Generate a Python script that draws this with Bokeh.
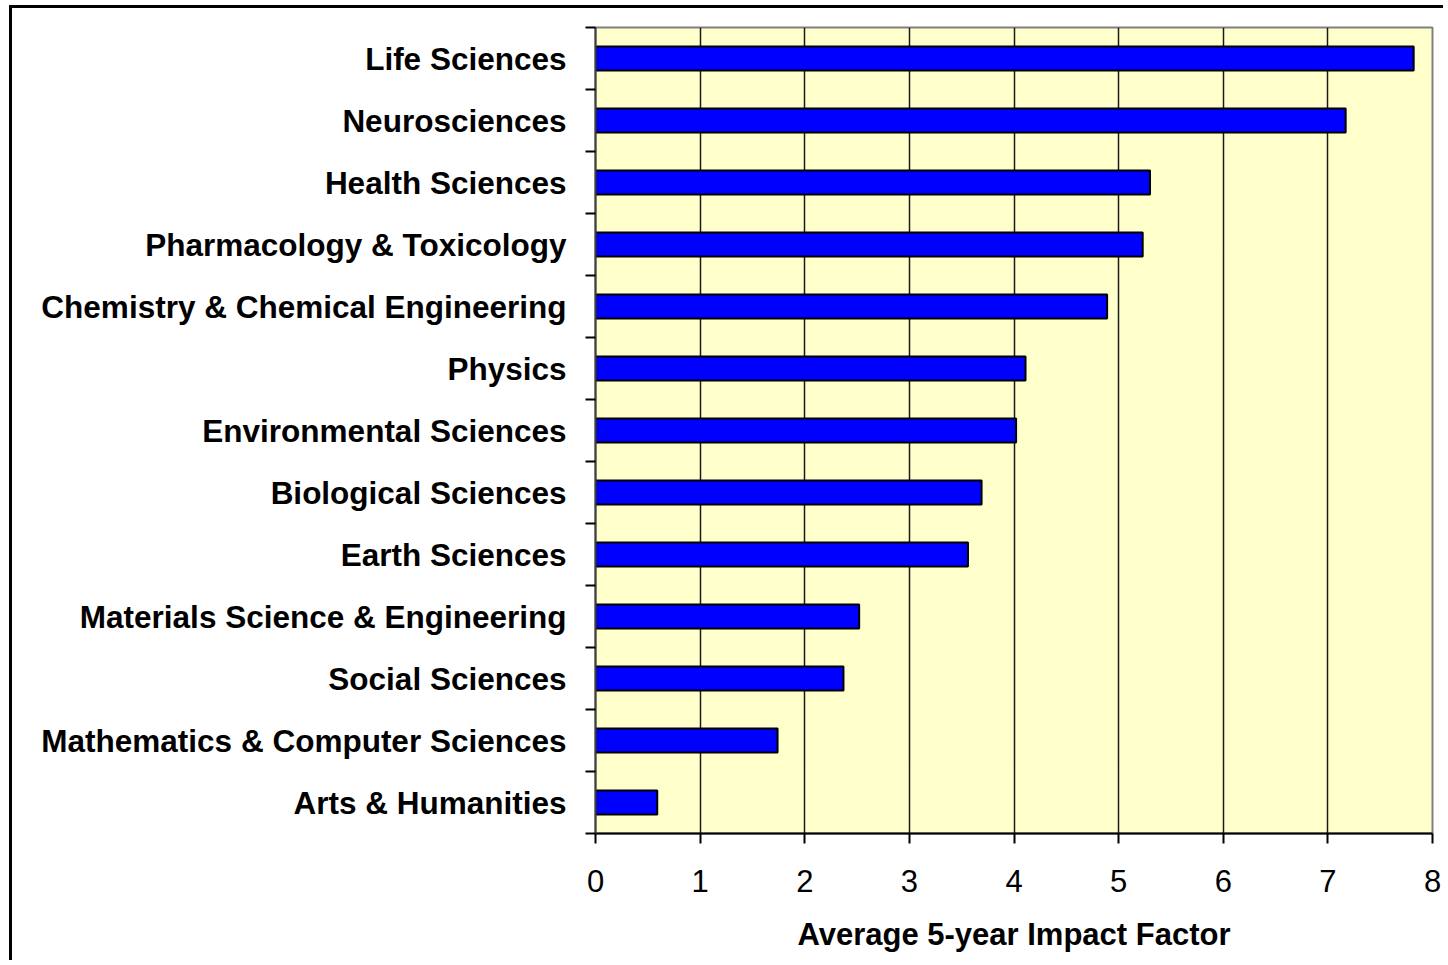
from bokeh.plotting import figure
from bokeh.models import (Range1d, LinearAxis, FixedTicker, ColumnDataSource)
from bokeh.embed import file_html
from bokeh.resources import INLINE

categories = [
    "Life Sciences",
    "Neurosciences",
    "Health Sciences",
    "Pharmacology & Toxicology",
    "Chemistry & Chemical Engineering",
    "Physics",
    "Environmental Sciences",
    "Biological Sciences",
    "Earth Sciences",
    "Materials Science & Engineering",
    "Social Sciences",
    "Mathematics & Computer Sciences",
    "Arts & Humanities",
]
values = [7.82, 7.17, 5.30, 5.23, 4.89, 4.11, 4.02, 3.69, 3.56, 2.52, 2.37, 1.74, 0.59]
x_ticks = [0, 1, 2, 3, 4, 5, 6, 7, 8]
x_title = "Average 5-year Impact Factor"

FONT = "Liberation Sans"
n = len(categories)
centers = [n - i - 0.5 for i in range(n)]

source = ColumnDataSource(data=dict(cat=categories, val=values, y=centers))

p = figure(
    width=1434, height=955,
    y_range=Range1d(0, n),
    x_range=Range1d(0, 8),
    output_backend="svg", toolbar_location=None,
    y_axis_location=None,
    min_border_left=583, min_border_right=14,
    min_border_top=19, min_border_bottom=130,
)
p.styles = {"border-left": "3px solid black", "border-top": "3px solid black",
            "margin-left": "9px", "margin-top": "5px"}

p.background_fill_color = "#FFFFCC"
p.border_fill_color = "white"
p.outline_line_color = "#808080"
p.outline_line_width = 2

# boundary ticks axis (inner)
tick_axis = LinearAxis(
    ticker=FixedTicker(ticks=list(range(n + 1))),
    major_label_overrides={i: "" for i in range(n + 1)},
    major_tick_out=10, major_tick_in=0,
    major_tick_line_color="black", major_tick_line_width=2,
    minor_tick_line_color=None,
    axis_line_color="#404040", axis_line_width=2,
    major_label_standoff=0,
)
p.add_layout(tick_axis, "left")

label_axis = LinearAxis(
    ticker=FixedTicker(ticks=centers),
    major_label_overrides={c: name for c, name in zip(centers, categories)},
    major_tick_line_color=None,
    minor_tick_line_color=None,
    axis_line_color=None,
    major_label_text_font=FONT,
    major_label_text_font_style="bold",
    major_label_text_font_size="31.5px",
    major_label_text_color="black",
    major_label_standoff=13,
)
p.add_layout(label_axis, "left")

p.xaxis.ticker = FixedTicker(ticks=x_ticks)
p.xaxis.axis_line_color = "black"
p.xaxis.axis_line_width = 2
p.xaxis.major_tick_out = 10
p.xaxis.major_tick_in = 0
p.xaxis.major_tick_line_color = "black"
p.xaxis.major_tick_line_width = 2
p.xaxis.minor_tick_line_color = None
p.xaxis.major_label_text_font = FONT
p.xaxis.major_label_text_font_size = "31px"
p.xaxis.major_label_text_color = "black"
p.xaxis.major_label_standoff = 26
p.xaxis.axis_label = x_title
p.xaxis.axis_label_text_font = FONT
p.xaxis.axis_label_text_font_style = "bold"
p.xaxis.axis_label_text_font_size = "31px"
p.xaxis.axis_label_text_color = "black"
p.xaxis.axis_label_standoff = 22

p.xgrid.grid_line_color = "#1a1a1a"
p.xgrid.grid_line_width = 1.5
p.xgrid.ticker = FixedTicker(ticks=x_ticks)
p.ygrid.grid_line_color = None

p.hbar(y="y", right="val", left=0, height=0.39, source=source,
       fill_color="#0000FF", line_color="black", line_width=2)

open("out.html", "w").write(file_html(p, INLINE))
